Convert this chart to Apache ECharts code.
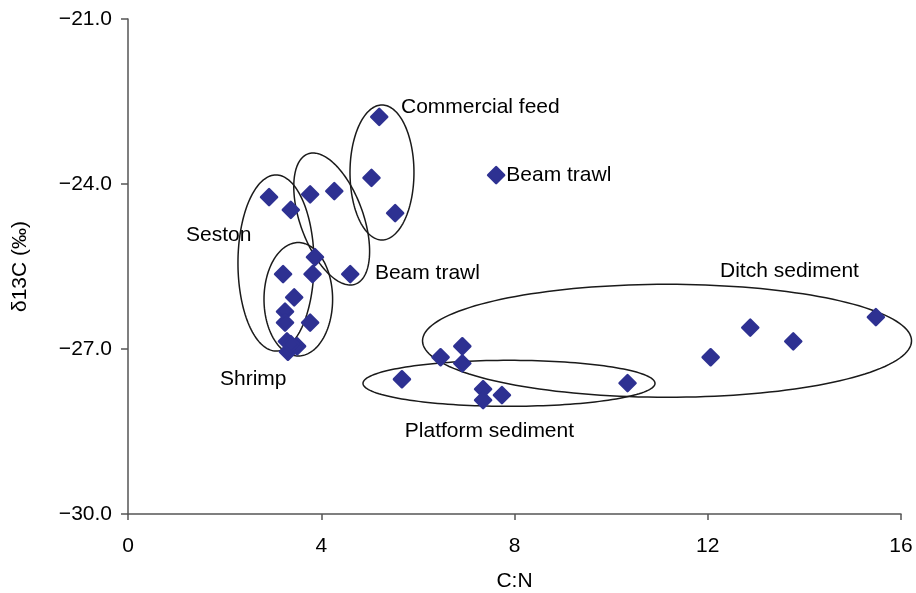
<!DOCTYPE html>
<html>
<head>
<meta charset="utf-8">
<script src="https://cdn.jsdelivr.net/npm/echarts@6/dist/echarts.min.js"></script>
<style>
html,body{margin:0;padding:0;background:#fff;}
#chart{width:916px;height:593px;}
</style>
</head>
<body>
<div id="chart"></div>
<script>
// ---- Data (C:N, δ13C) ----
const commercialFeed = [[5.20,-22.78],[5.04,-23.89],[5.53,-24.53]];
const beamTrawl = [[7.62,-23.84],[3.77,-24.19],[4.27,-24.13],[3.87,-25.33],[4.60,-25.64]];
const seston = [[2.92,-24.24],[3.37,-24.47],[3.21,-25.64]];
const shrimp = [[3.82,-25.64],[3.44,-26.06],[3.25,-26.32],[3.25,-26.52],[3.77,-26.52],[3.29,-26.86],[3.50,-26.95],[3.31,-27.05],[3.37,-26.91]];
const platformSediment = [[5.67,-27.55],[7.35,-27.73],[7.35,-27.93],[7.74,-27.84],[10.34,-27.62]];
const ditchSediment = [[6.47,-27.15],[6.92,-26.95],[6.92,-27.26],[12.06,-27.15],[12.88,-26.61],[13.77,-26.86],[15.48,-26.42]];

const xTicks = [0,4,8,12,16];
const yTicks = [-30,-27,-24,-21];

// group outlines: centre (data), semi-axes (data units), rotation (deg)
const ellipseCx  = [5.257, 4.216, 3.063, 3.525, 7.886, 11.157];
const ellipseCy  = [-23.79, -24.636, -25.436, -26.096, -27.624, -26.851];
const ellipseRx  = [0.662, 0.652, 0.787, 0.71, 3.022, 5.061];
const ellipseRy  = [1.227, 1.26, 1.6, 1.031, 0.418, 1.027];
const ellipseRot = [0, 20, 0, 0, 0, 0];

// group labels
const labelText = ['Commercial feed','Beam trawl','Seston','Beam trawl','Shrimp','Platform sediment','Ditch sediment'];
const labelX = [5.65, 7.83, 1.20, 5.11, 1.904, 5.73, 12.254];
const labelY = [-22.60, -23.84, -24.927, -25.624, -27.551, -28.50, -25.582];

const FONT = '"Liberation Sans", Arial, Helvetica, sans-serif';
const FS = 21;
const allPoints = [].concat(commercialFeed, beamTrawl, seston, shrimp, platformSediment, ditchSediment);

const chart = echarts.init(document.getElementById('chart'), null, {renderer:'canvas'});
const fmtY = v => (v < 0 ? '\u2212' : '') + Math.abs(v).toFixed(1);

chart.setOption({
  backgroundColor:'#fff',
  animation:false,
  grid:{left:128,right:15,top:19,bottom:79,containLabel:false,outerBoundsMode:'none'},
  xAxis:{
    type:'value', min:xTicks[0], max:xTicks[xTicks.length-1], interval:4,
    name:'C:N', nameLocation:'middle', nameGap:57,
    nameTextStyle:{fontFamily:FONT,fontSize:FS,color:'#000'},
    axisLine:{show:true,lineStyle:{color:'#555',width:1.5}},
    axisTick:{show:true,length:6,lineStyle:{color:'#555',width:1.5}},
    axisLabel:{fontFamily:FONT,fontSize:FS,color:'#000',margin:22},
    splitLine:{show:false}
  },
  yAxis:{
    type:'value', min:yTicks[0], max:yTicks[yTicks.length-1], interval:3,
    name:'\u03b413C (\u2030)', nameLocation:'middle', nameGap:97, nameRotate:90,
    nameTextStyle:{fontFamily:FONT,fontSize:FS,color:'#000'},
    axisLine:{show:true,onZero:false,lineStyle:{color:'#555',width:1.5}},
    axisTick:{show:true,length:7,lineStyle:{color:'#555',width:1.5}},
    axisLabel:{fontFamily:FONT,fontSize:FS,color:'#000',margin:16,formatter:fmtY},
    splitLine:{show:false}
  },
  series:[
    {
      type:'custom',
      z:1,
      silent:true,
      data: ellipseCx.map((c,i)=>[c, ellipseCy[i], ellipseRx[i], ellipseRy[i], ellipseRot[i]]),
      renderItem:function(params, api){
        const c = api.coord([api.value(0), api.value(1)]);
        const rx = api.size([api.value(2), 0])[0];
        const ry = api.size([0, api.value(3)])[1];
        const rot = api.value(4) * Math.PI / 180;
        const pts = [];
        const N = 160;
        for (let k=0;k<N;k++){
          const t = 2*Math.PI*k/N;
          const ex = rx*Math.cos(t), ey = ry*Math.sin(t);
          pts.push([c[0] + ex*Math.cos(rot) + ey*Math.sin(rot), c[1] - ex*Math.sin(rot) + ey*Math.cos(rot)]);
        }
        return {type:'polygon', shape:{points:pts}, style:{fill:'none', stroke:'#1a1a1a', lineWidth:1.5}};
      }
    },
    {
      type:'scatter',
      z:3,
      symbol:'diamond',
      symbolSize:16,
      itemStyle:{color:'#2E3192', borderColor:'#2E3192', borderWidth:2.5, borderJoin:'round', opacity:1},
      data: allPoints
    },
    {
      type:'custom',
      z:4,
      silent:true,
      data: labelText.map((t,i)=>[labelX[i], labelY[i], i]),
      renderItem:function(params, api){
        const p = api.coord([api.value(0), api.value(1)]);
        return {type:'text', x:p[0], y:p[1], style:{text:labelText[api.value(2)], fill:'#000', font:FS+'px '+FONT, textAlign:'left', textVerticalAlign:'middle'}};
      }
    }
  ]
});
</script>
</body>
</html>
